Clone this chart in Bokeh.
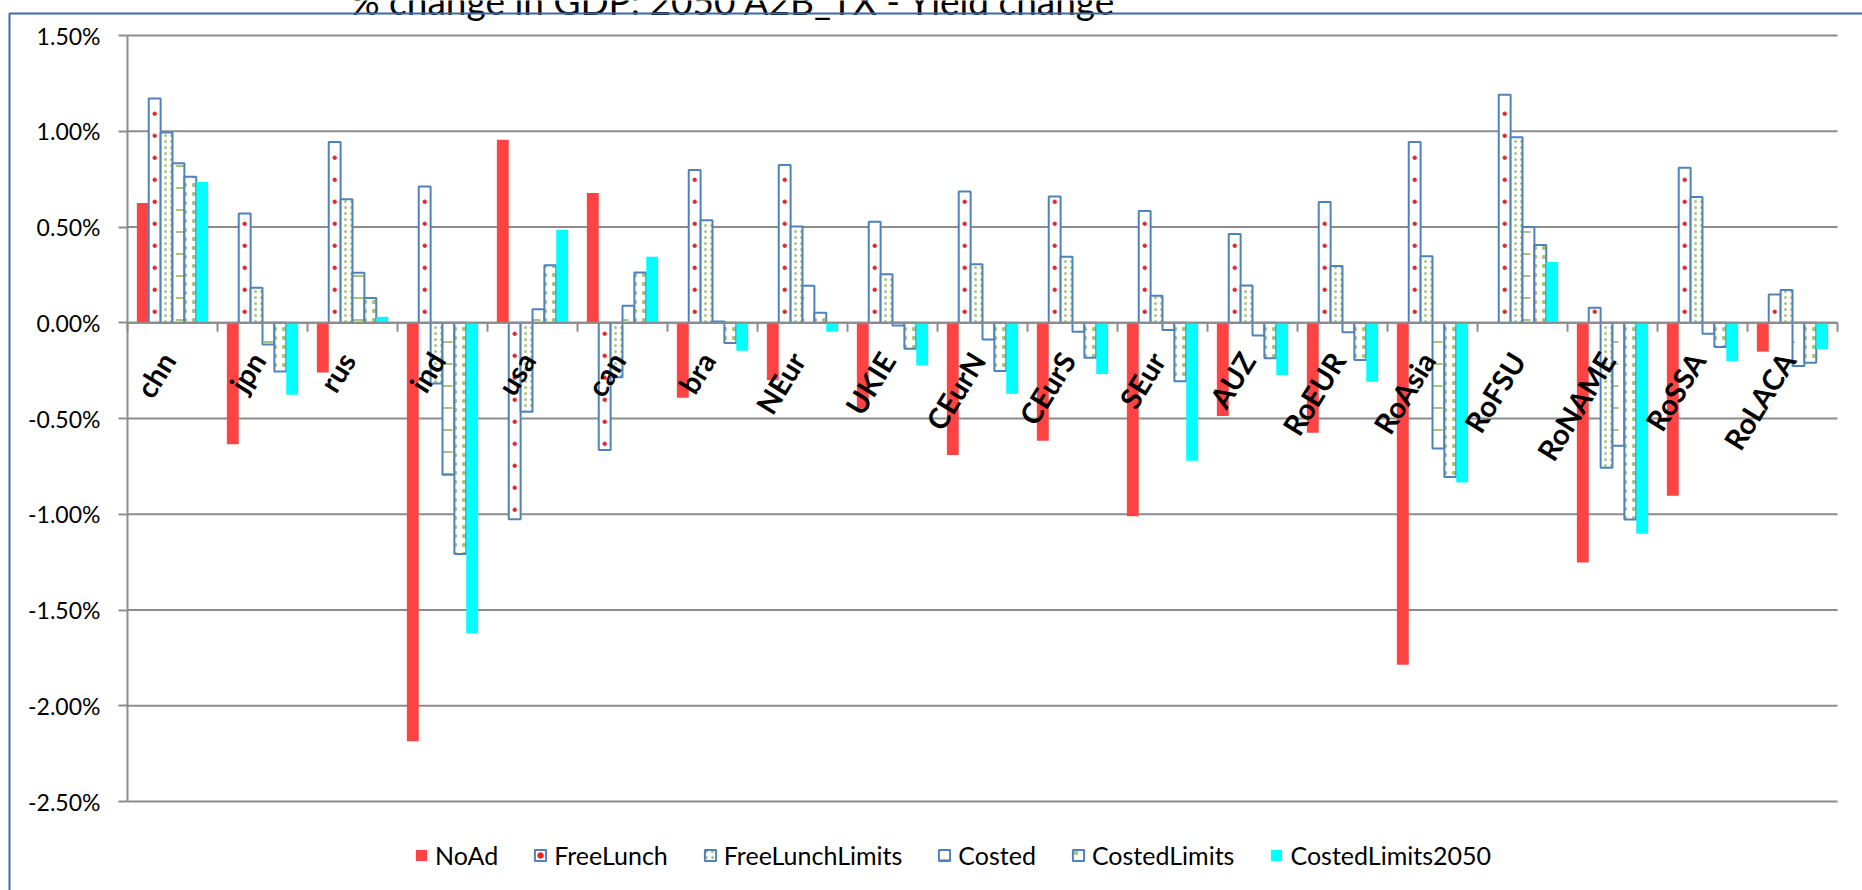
from bokeh.plotting import figure
from bokeh.models import (Range1d, FixedTicker, PrintfTickFormatter, Label, LabelSet, Legend,
                          LegendItem, ColumnDataSource)
from bokeh.core.properties import value
from bokeh.embed import file_html
from bokeh.resources import INLINE
import math

# ---------------- data ----------------
categories = ["chn", "jpn", "rus", "ind", "usa", "can", "bra", "NEur", "UKIE", "CEurN",
              "CEurS", "SEur", "AUZ", "RoEUR", "RoAsia", "RoFSU", "RoNAME", "RoSSA", "RoLACA"]

noad = [0.625, -0.634, -0.260, -2.186, 0.955, 0.678, -0.392, -0.300, -0.449, -0.691,
        -0.616, -1.010, -0.487, -0.575, -1.786, 0.0, -1.252, -0.904, -0.151]
freelunch = [1.171, 0.570, 0.944, 0.711, -1.026, -0.664, 0.798, 0.824, 0.528, 0.685,
             0.659, 0.584, 0.463, 0.631, 0.944, 1.190, 0.078, 0.810, 0.148]
freelunch_limits = [0.993, 0.183, 0.645, -0.317, -0.465, -0.284, 0.535, 0.503, 0.253, 0.305,
                    0.345, 0.141, 0.195, 0.296, 0.347, 0.969, -0.757, 0.657, 0.171]
costed = [0.833, -0.113, 0.261, -0.794, 0.071, 0.089, 0.007, 0.193, -0.014, -0.087,
          -0.047, -0.038, -0.066, -0.049, -0.657, 0.500, -0.642, -0.057, -0.226]
costed_limits = [0.763, -0.254, 0.129, -1.207, 0.300, 0.263, -0.106, 0.052, -0.136, -0.252,
                 -0.183, -0.305, -0.186, -0.195, -0.806, 0.406, -1.027, -0.127, -0.209]
costed_limits_2050 = [0.735, -0.376, 0.031, -1.622, 0.486, 0.345, -0.146, -0.047, -0.223, -0.371,
                      -0.268, -0.721, -0.273, -0.308, -0.834, 0.317, -1.102, -0.200, -0.138]

series_names = ["NoAd", "FreeLunch", "FreeLunchLimits", "Costed", "CostedLimits", "CostedLimits2050"]
series_values = [noad, freelunch, freelunch_limits, costed, costed_limits, costed_limits_2050]
y_ticks = [-2.5, -2.0, -1.5, -1.0, -0.5, 0.0, 0.5, 1.0, 1.5]
title_text = "% change in GDP: 2050 A2B_TX - Yield change"

# ---------------- styles / layout ----------------
RED = "#FF4343"
CYAN = "#00FFFF"
BLUE = "#4F81BD"
GREEN = "#A9C47F"
DOT_RED = "#E8262A"
GRID = "#8C8C8C"
FRAME_BLUE = "#41699E"
FONT = "Lato"

W, H = 1862, 890
PLOT_LEFT, PLOT_RIGHT = 127, 1837      # pixel extent of the category axis
PLOT_TOP, PLOT_BOTTOM = 35, 801        # pixel extent of the value axis
n = len(categories)
px_per_cat = (PLOT_RIGHT - PLOT_LEFT) / n
y_lo, y_hi = min(y_ticks), max(y_ticks)
px_per_unit = (PLOT_BOTTOM - PLOT_TOP) / (y_hi - y_lo)

x_start = -PLOT_LEFT / px_per_cat
x_end = n + (W - PLOT_RIGHT) / px_per_cat
y_start = y_lo - (H - PLOT_BOTTOM) / px_per_unit
y_end = y_hi + PLOT_TOP / px_per_unit

styles = [
    dict(fill_color=RED, line_color=None),
    dict(fill_color="white", line_color=BLUE, line_width=2),
    dict(fill_color="white", line_color=BLUE, line_width=2, hatch_pattern="dot",
         hatch_color=GREEN, hatch_scale=6, hatch_weight=1.2),
    dict(fill_color="white", line_color=BLUE, line_width=2, hatch_pattern="horizontal_dash",
         hatch_color=GREEN, hatch_scale=22, hatch_weight=2),
    dict(fill_color="white", line_color=BLUE, line_width=2, hatch_pattern="dot",
         hatch_color=GREEN, hatch_scale=9, hatch_weight=1.0),
    dict(fill_color=CYAN, line_color=None),
]
bar_w = 0.132

p = figure(width=W, height=H, output_backend="svg", toolbar_location=None,
           x_range=Range1d(x_start, x_end), y_range=Range1d(y_start, y_end),
           x_axis_location=None, y_axis_location="left",
           min_border_left=0, min_border_right=0, min_border_top=0, min_border_bottom=0)
p.outline_line_color = None
p.background_fill_color = "white"
p.border_fill_color = "white"
p.xgrid.visible = False
p.ygrid.visible = False

# value axis (drawn at the category-axis origin)
yax = p.yaxis[0]
yax.fixed_location = 0
yax.bounds = (y_lo, y_hi)
yax.ticker = FixedTicker(ticks=y_ticks)
yax.formatter = PrintfTickFormatter(format="%.2f%%")
yax.axis_line_color = GRID
yax.axis_line_width = 2
yax.major_tick_line_color = GRID
yax.major_tick_line_width = 2
yax.major_tick_out = 9
yax.major_tick_in = 0
yax.minor_tick_line_color = None
yax.major_label_standoff = 18
yax.major_label_text_font = FONT
yax.major_label_text_font_size = "23px"
yax.major_label_text_color = "black"

# horizontal gridlines at the value ticks
p.segment(x0=[0] * len(y_ticks), x1=[n] * len(y_ticks), y0=y_ticks, y1=y_ticks,
          line_color=GRID, line_width=2)

# bars
renderers = []
for k, (name, vals) in enumerate(zip(series_names, series_values)):
    xs = [i + 0.5 + (k - 2.5) * bar_w for i in range(n)]
    src = ColumnDataSource(dict(x=xs, top=vals))
    r = p.vbar(x="x", top="top", bottom=0, width=bar_w, source=src, **styles[k])
    renderers.append([r])

# FreeLunch fill pattern: a column of small red dots, one every ~22 px
dot_step = 22 / px_per_unit
dot_x, dot_y = [], []
for i, v in enumerate(freelunch):
    j = 0
    while (j + 0.5) * dot_step < abs(v) - 0.02:
        dot_x.append(i + 0.5 + (1 - 2.5) * bar_w)
        dot_y.append(math.copysign((j + 0.5) * dot_step, v))
        j += 1
dots = p.scatter(dot_x, dot_y, size=3.5, color=DOT_RED, marker="circle")
renderers[1].append(dots)

# zero axis line and category tick marks
tick_len = 9 / px_per_unit
bounds = list(range(n + 1))
p.segment(x0=[0], x1=[n], y0=[0], y1=[0], line_color=GRID, line_width=2)
p.segment(x0=bounds, x1=bounds, y0=[0] * len(bounds), y1=[-tick_len] * len(bounds),
          line_color=GRID, line_width=2)

# rotated category labels, hanging just under the zero line
lab_src = ColumnDataSource(dict(x=[i + 0.5 - 5 / px_per_cat for i in range(n)],
                                y=[-32 / px_per_unit] * n, text=categories))
p.add_layout(LabelSet(x="x", y="y", text="text", source=lab_src, angle=45,
                      angle_units="rad", text_align="right", text_baseline="middle",
                      text_font=value(FONT), text_font_style="bold", text_font_size="29px",
                      text_color="black"))

# legend below the plot area
items = [LegendItem(label=nm, renderers=rs) for nm, rs in zip(series_names, renderers)]
legend = Legend(items=items, orientation="horizontal", location=(414, 20),
                glyph_width=14, glyph_height=14, label_standoff=7, spacing=35,
                padding=0, margin=0, border_line_color=None, background_fill_alpha=0,
                label_text_font=FONT, label_text_font_size="25px", label_text_color="black")
p.add_layout(legend, "center")

# chart title (its top is cut off by the page edge, as in the reference)
p.add_layout(Label(x=733, y=H, x_units="screen", y_units="screen", text=title_text,
                   text_align="center", text_baseline="alphabetic", text_font=FONT,
                   text_font_size="37px", text_color="black"))

# outer chart-area border (only its top and left edges fall inside the page)
p.add_layout(Label(x=9, y=H - 13, x_units="screen", y_units="screen", text=" ",
                   text_align="left", text_baseline="top", text_font_size="10px",
                   border_line_color=FRAME_BLUE, border_line_width=2,
                   padding=dict(left=0, top=0, right=2500, bottom=1500)))

open("out.html", "w").write(file_html(p, INLINE))
